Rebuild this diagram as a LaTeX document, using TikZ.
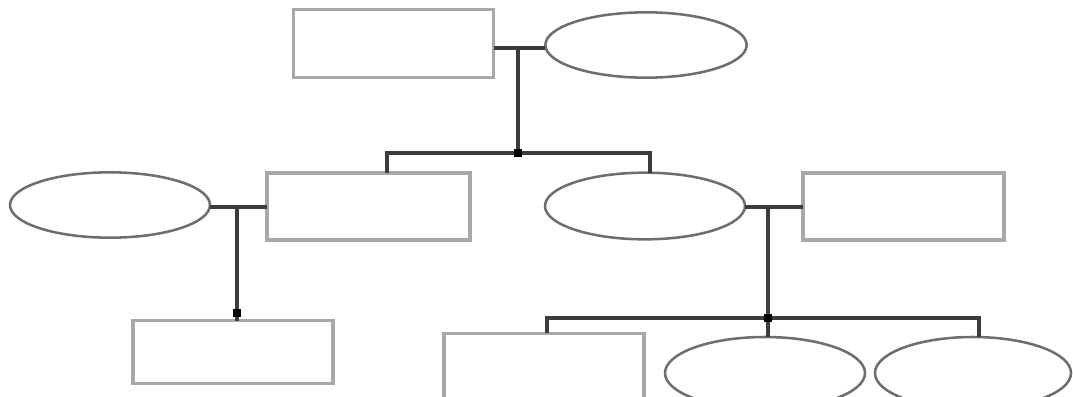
\documentclass[tikz,border=0pt]{standalone}
\usetikzlibrary{shapes.geometric}
\definecolor{boxgray}{HTML}{A8A8A8}
\definecolor{ellgray}{HTML}{6E6E6E}
\definecolor{linegray}{HTML}{3C3C3C}
\begin{document}
\begin{tikzpicture}[x=0.75pt,y=-0.75pt,
  male/.style={draw=boxgray,line width=2.6pt,rectangle,inner sep=0pt,outer sep=0pt},
  female/.style={draw=ellgray,line width=1.9pt,ellipse,inner sep=0pt,outer sep=0pt},
  link/.style={draw=linegray,line width=2.8pt},
  knot/.style={fill=black,rectangle,inner sep=0pt,minimum size=5.5pt}]
\useasboundingbox (0,0) rectangle (1073,396);
\begin{scope}
\clip (0,0) rectangle (1073,396);
% nodes
\node[male,minimum width=150pt,minimum height=51pt] (tr) at (393.5,43.5) {};
\node[female,minimum width=151pt,minimum height=49pt] (te) at (646,45) {};
\node[female,minimum width=150pt,minimum height=49pt] (le) at (110,205) {};
\node[male,minimum width=152pt,minimum height=50pt] (mr) at (368.5,206.5) {};
\node[female,minimum width=150pt,minimum height=50pt] (me) at (645,206) {};
\node[male,minimum width=151pt,minimum height=50pt] (rr) at (903.5,206.5) {};
\node[male,minimum width=150pt,minimum height=47pt] (br) at (233,352) {};
\node[male,minimum width=150pt,minimum height=52pt] (bm) at (544,368) {};
\node[female,minimum width=150pt,minimum height=54pt] (be1) at (765,373) {};
\node[female,minimum width=147pt,minimum height=54pt] (be2) at (973,373) {};
% junction coordinates
\coordinate (m1) at (518,48);
\coordinate (s1) at (518,153);
\coordinate (c1) at (387,153);
\coordinate (c2) at (650,153);
\coordinate (m2) at (237,207);
\coordinate (s3) at (237,313);
\coordinate (m3) at (768,207);
\coordinate (s2) at (768,318);
\coordinate (c3) at (547,318);
\coordinate (c4) at (979,318);
% connectors
\draw[link] (tr.east |- m1) -- (te.west |- m1);
\draw[link] (m1) -- (s1);
\draw[link] (mr.north -| c1) |- (s1) -| (me.north -| c2);
\draw[link] (le.east |- m2) -- (mr.west |- m2);
\draw[link] (m2) -- (s3) -- (br.north -| s3);
\draw[link] (me.east |- m3) -- (rr.west |- m3);
\draw[link] (m3) -- (s2);
\draw[link] (bm.north -| c3) |- (s2) -| (be2.north -| c4);
\draw[link] (s2) -- (be1.north -| s2);
\node[knot] at (s1) {};
\node[knot] at (s3) {};
\node[knot] at (s2) {};
\end{scope}
\end{tikzpicture}
\end{document}
